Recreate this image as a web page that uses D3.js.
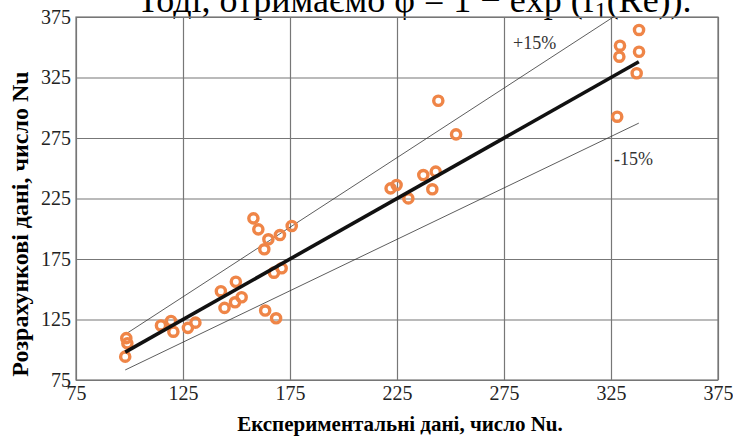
<!DOCTYPE html>
<html>
<head>
<meta charset="utf-8">
<script src="https://cdn.jsdelivr.net/npm/d3@7"></script>
<style>
  body { margin: 0; background: #fff; }
  svg text { font-family: 'Liberation Serif', 'Times New Roman', serif; }
</style>
</head>
<body>
<div id="d3_container"></div>
<script>

// experimental Nu (x) vs calculated Nu (y)
const nuExp  = [98.5, 99, 98, 114.7, 119.4, 120.5, 127.3, 130.8,
                157.9, 160.2, 164.9, 163, 170.3, 175.8, 167.5, 171.1,
                142.7, 149.7, 144.4, 149.3, 152.4, 163.4, 168.5,
                244.3, 252.6, 222, 224.8, 230.3, 237.3, 243.1, 241.5,
                338.1, 329.2, 328.9, 338.1, 337, 327.9];
const nuCalc = [109.6, 105.3, 94.3, 120.1, 123.8, 114.9, 118.1, 122.4,
                208.6, 199.5, 191.3, 183, 194.8, 202.3, 163.7, 167.3,
                148.4, 156.2, 134.6, 139.2, 143.4, 132.4, 126,
                305.8, 278, 233.4, 236.2, 225.1, 244.4, 247.2, 232.6,
                364.3, 351.3, 342.2, 346.3, 328.5, 292.6];

const tickVals = [75, 125, 175, 225, 275, 325, 375];
const fitRange = [98, 338];
const bandFactors = [1.15, 0.85];
const bandLabels = ["+15%", "-15%"];

const margin = {top: 17, bottom: 57, right: 15, left: 76};
const width = 733, height = 437;
const serif = "'Liberation Serif', 'Times New Roman', serif";

const svg = d3.select("#d3_container").append("svg")
            .attr("width", width)
            .attr("height", height);

// cut-off line of text from the page above the figure
svg.append("text")
    .attr("x", 137)
    .attr("y", 12)
    .style("font-size", "36px")
    .attr("fill", "#000")
    .html("Тоді, отримаємо φ = 1 − exp (f<tspan font-size='24px' dy='6'>1</tspan><tspan dy='-6'>(Re)).</tspan>");

const x_scale = d3.scaleLinear().domain([75, 375]).range([margin.left, width - margin.right]);
const y_scale = d3.scaleLinear().domain([75, 375]).range([height - margin.bottom, margin.top]);

let x_axis = d3.axisBottom(x_scale).tickValues(tickVals)
    .tickSize(-(height - margin.top - margin.bottom)).tickPadding(6);
let y_axis = d3.axisLeft(y_scale).tickValues(tickVals)
    .tickSize(-(width - margin.left - margin.right)).tickPadding(5);

const gx = svg.append("g")
    .attr("transform", `translate(0,${height - margin.bottom})`)
    .call(x_axis);
const gy = svg.append("g")
    .attr("transform", `translate(${margin.left},0)`)
    .call(y_axis);

[gx, gy].forEach(g => {
    g.attr("font-family", serif).attr("font-size", 20);
    g.select(".domain").remove();
    g.selectAll(".tick line").attr("stroke", "#777").attr("stroke-width", 1.2);
    g.selectAll(".tick text")
        .attr("fill", "#222")
        .attr("font-family", serif)
        .style("font-family", serif)
        .style("font-size", "20px");
});

// frame
svg.append("rect")
    .attr("x", margin.left).attr("y", margin.top)
    .attr("width", width - margin.left - margin.right)
    .attr("height", height - margin.top - margin.bottom)
    .attr("fill", "none").attr("stroke", "#777").attr("stroke-width", 1.2);

svg.append("clipPath").attr("id", "plotclip")
    .append("rect")
    .attr("x", margin.left).attr("y", margin.top)
    .attr("width", width - margin.left - margin.right)
    .attr("height", height - margin.top - margin.bottom);

const lineFunction = d3.line()
        .x(d => x_scale(d[0]))
        .y(d => y_scale(d[1]));

// +/-15% bands
bandFactors.forEach(f => {
    svg.append("path")
        .attr("clip-path", "url(#plotclip)")
        .attr("d", lineFunction(fitRange.map(v => [v, v * f])))
        .attr("fill", "none")
        .attr("stroke", "#333")
        .attr("stroke-width", 0.8);
});

// points
svg.selectAll("circle.pt")
    .data(nuExp)
    .enter()
    .append("circle")
    .attr("class", "pt")
    .attr("cx", d => x_scale(d))
    .attr("cy", (d, i) => y_scale(nuCalc[i]))
    .attr("r", 4.6)
    .attr("fill", "none")
    .attr("stroke", "#EF8547")
    .attr("stroke-width", 3.4);

// fit line y = x
svg.append("path")
    .attr("d", lineFunction(fitRange.map(v => [v, v])))
    .attr("fill", "none")
    .attr("stroke", "#111")
    .attr("stroke-width", 3.6);

svg.append("text")
    .attr("x", 513).attr("y", 49)
    .style("font-size", "18px").attr("fill", "#333")
    .text(bandLabels[0]);
svg.append("text")
    .attr("x", 614).attr("y", 165)
    .style("font-size", "18px").attr("fill", "#333")
    .text(bandLabels[1]);

// axis titles
svg.append("text")
    .attr("x", 400).attr("y", 431)
    .attr("text-anchor", "middle")
    .style("font-size", "21px").style("font-weight", "bold")
    .text("Експериментальні дані, число Nu.");

svg.append("text")
    .attr("transform", "translate(28,224) rotate(-90)")
    .attr("text-anchor", "middle")
    .style("font-size", "24px").style("font-weight", "bold")
    .text("Розрахункові дані, число Nu");

</script>
</body>
</html>
